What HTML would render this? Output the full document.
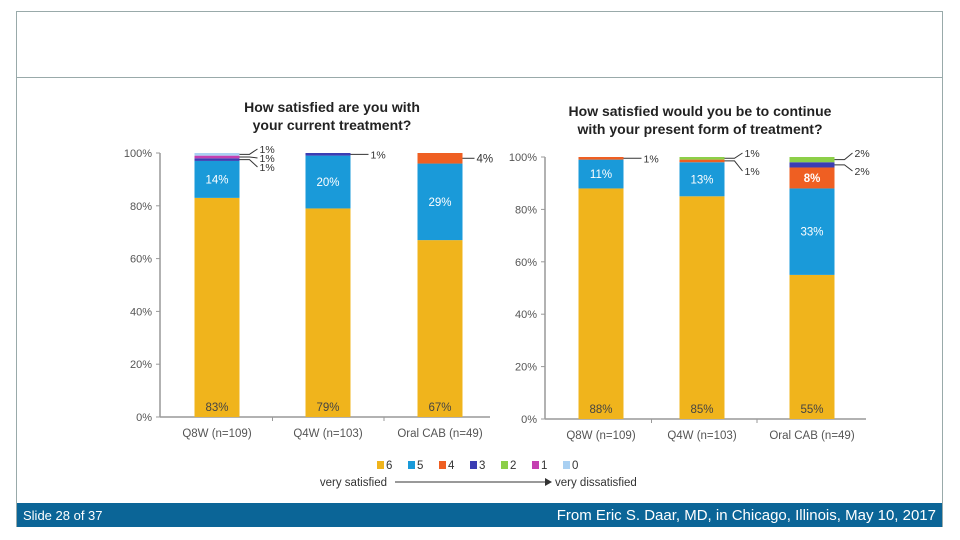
<!DOCTYPE html>
<html><head><meta charset="utf-8"><style>
body{margin:0;width:960px;height:540px;background:#fff;position:relative;overflow:hidden;font-family:"Liberation Sans",sans-serif}
#frame{position:absolute;left:16px;top:11px;width:927px;height:516px;border:1px solid #9aa;box-sizing:border-box}
#topline{position:absolute;left:16px;top:77px;width:927px;height:1px;background:#9aa}
#footer{position:absolute;left:17px;top:503px;width:925px;height:24px;background:#0b6597;color:#fff;font-size:14px}
</style></head><body>
<div id="frame"></div>
<div id="topline"></div>
<svg id="chart" width="960" height="540" style="position:absolute;left:0;top:0"></svg>
<div id="footer">
<span style="position:absolute;left:6px;top:5px;font-size:13px">Slide 28 of 37</span>
<span style="position:absolute;right:6px;top:4px;font-size:15px">From Eric S. Daar, MD, in Chicago, Illinois, May 10, 2017</span>
</div>
<script>
const categories=["Q8W (n=109)","Q4W (n=103)","Oral CAB (n=49)"];
const levels=["6","5","4","3","2","1","0"];
const colors=["#f0b41c","#1a9ad9","#ef5f22","#3b3db3","#8ccf48","#c43fb0","#a9d0f2"];
const leftValues=[[83,14,0,1,0,1,1],[79,20,0,1,0,0,0],[67,29,4,0,0,0,0]];
const rightValues=[[88,11,1,0,0,0,0],[85,13,1,0,1,0,0],[55,33,8,2,2,0,0]];
const yTicks=[0,20,40,60,80,100];
const NS="http://www.w3.org/2000/svg";
const svg=document.getElementById('chart');
function mk(t,a,txt){const e=document.createElementNS(NS,t);for(const k in a)e.setAttribute(k,a[k]);if(txt!==undefined)e.textContent=txt;svg.appendChild(e);return e;}
function drawChart(cfg,values,prefix){
  const y=v=>cfg.y0-(cfg.y0-cfg.y100)*v/100;
  let t1=mk('text',{x:cfg.tx,y:cfg.y100-41,'text-anchor':'middle','font-size':14,'font-weight':'bold',fill:'#222'},cfg.title[0]);
  
  let t2=mk('text',{x:cfg.tx,y:cfg.y100-23,'text-anchor':'middle','font-size':14,'font-weight':'bold',fill:'#222'},cfg.title[1]);
  
  let ax=mk('line',{x1:cfg.ax,x2:cfg.ax,y1:cfg.y100,y2:cfg.y0,stroke:'#999','stroke-width':1.5});
  
  let xa=mk('line',{x1:cfg.ax,x2:cfg.axEnd,y1:cfg.y0,y2:cfg.y0,stroke:'#999','stroke-width':1.5});
  
  yTicks.forEach(v=>{
    mk('line',{x1:cfg.ax-4,x2:cfg.ax,y1:y(v),y2:y(v),stroke:'#999'});
    let l=mk('text',{x:cfg.ax-8,y:y(v)+4,'text-anchor':'end','font-size':11,fill:'#555'},v+'%');
    
  });
  categories.forEach((c,i)=>{
    const cx=cfg.centers[i], bw=45;
    if(i>0) mk('line',{x1:(cfg.centers[i]+cfg.centers[i-1])/2,x2:(cfg.centers[i]+cfg.centers[i-1])/2,y1:cfg.y0,y2:cfg.y0+4,stroke:'#999'});
    let cl=mk('text',{x:cx,y:cfg.y0+20,'text-anchor':'middle','font-size':11.5,fill:'#555'},c);
    
    let acc=0;
    const segs=[];
    values[i].forEach((v,k)=>{
      if(v<=0)return;
      const r=mk('rect',{x:cx-bw/2,y:y(acc+v),width:bw,height:y(acc)-y(acc+v),fill:colors[k]});
      
      
      segs.push({k,v,mid:(y(acc)+y(acc+v))/2});
      acc+=v;
    });
    let small=segs.filter(s=>s.v<=2);
    segs.forEach(s=>{
      if(s.v>2){
        let ly=s.k===0?cfg.y0-6:s.mid+4;
        let t=mk('text',{x:cx,y:ly,'text-anchor':'middle','font-size':11.5,fill:s.k===0?'#444':'#fff','font-weight':s.k===2?'bold':'normal'},s.v+'%');
        
        if(s.k===2&&s.v<6){t.setAttribute('x',cx+bw/2+14);t.setAttribute('fill','#333');t.setAttribute('font-weight','normal');t.setAttribute('text-anchor','start');
          mk('line',{x1:cx+bw/2,x2:cx+bw/2+12,y1:s.mid,y2:s.mid,stroke:'#333'});}
      }
    });
    small.forEach((s,j)=>{
      const n=small.length;
      const ly=n===1?s.mid:cfg.y100-4+(n-1-j)*(n===3?9:18);
      mk('path',{d:`M${cx+bw/2} ${s.mid} L${cx+bw/2+10} ${s.mid} L${cx+bw/2+18} ${ly}`,stroke:'#333',fill:'none'});
      let t=mk('text',{x:cx+bw/2+20,y:ly+4,'font-size':10.5,fill:'#333'},s.v+'%');
      
    });
  });
}
drawChart({ax:160,axEnd:490,y0:417,y100:153,tx:332,centers:[217,328,440],title:["How satisfied are you with","your current treatment?"]},leftValues,'left');
drawChart({ax:545,axEnd:866,y0:419,y100:157,tx:700,centers:[601,702,812],title:["How satisfied would you be to continue","with your present form of treatment?"]},rightValues,'right');
levels.forEach((l,k)=>{
  const x=377+k*31;
  const r=mk('rect',{x:x,y:461,width:7,height:8,fill:colors[k]});
  
  const t=mk('text',{x:x+9,y:469,'font-size':11.5,fill:'#333'},l);
  
});
let a=mk('text',{x:387,y:486,'text-anchor':'end','font-size':11.5,fill:'#333'},'very satisfied');

mk('line',{x1:395,x2:550,y1:482,y2:482,stroke:'#333'});
mk('path',{d:'M545 478 L552 482 L545 486 Z',fill:'#333'});
let b=mk('text',{x:555,y:486,'font-size':11.5,fill:'#333'},'very dissatisfied');

</script>
</body></html>
